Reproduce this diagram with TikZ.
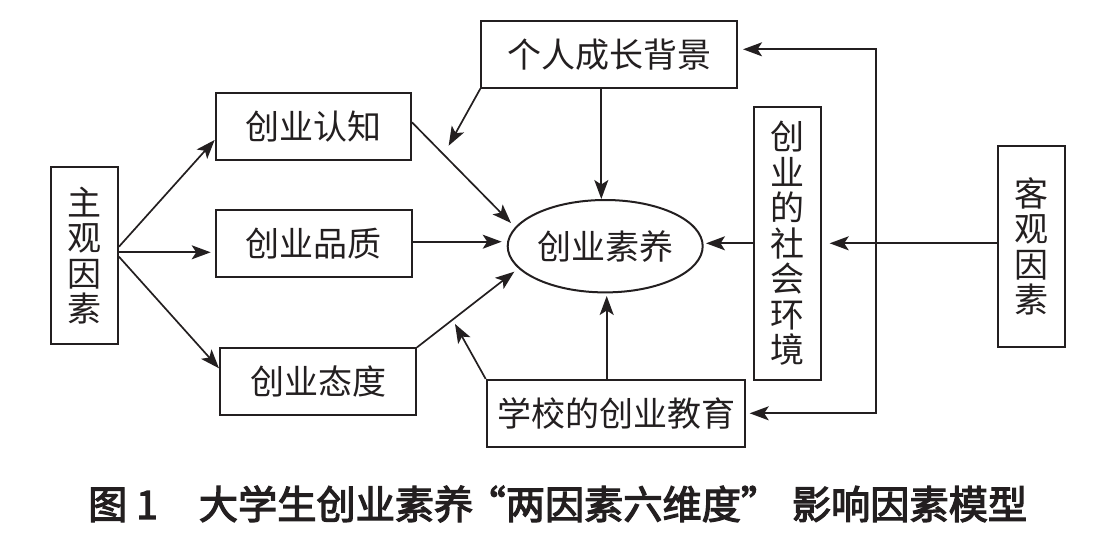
\documentclass[tikz,border=0pt]{standalone}
\usepackage{fontspec}
\usetikzlibrary{arrows.meta,calc,shapes.geometric}
\newfontfamily\song{Noto Sans CJK SC}
\newfontfamily\hei[FakeBold=3]{Noto Sans CJK SC}
\definecolor{ink}{RGB}{35,31,32}
\tikzset{
    box/.style={draw=ink, line width=2pt, inner sep=0pt, text=ink, align=center,
        font=\song\fontsize{34}{35.5}\selectfont},
    link/.style={draw=ink, line width=1.7pt, -{Stealth[length=19pt,width=14pt,inset=4.5pt]}},
    bothlink/.style={draw=ink, line width=1.7pt,
        {Stealth[length=19pt,width=14pt,inset=4.5pt]}-{Stealth[length=19pt,width=14pt,inset=4.5pt]}}
}
\begin{document}
\begin{tikzpicture}[x=1pt,y=-1pt]
        \useasboundingbox (0,0) rectangle (1098,547);

        \node[box, minimum width=67.3pt, minimum height=177.3pt](zg) at (84.3,255.7){主\\观\\因\\素};
        \node[box, minimum width=195.3pt, minimum height=66.7pt](rz) at (313.3,126.7){创业认知};
        \node[box, minimum width=196pt, minimum height=66.7pt](pz) at (313.7,243.3){创业品质};
        \node[box, minimum width=196pt, minimum height=66.7pt](td) at (318,381.7){创业态度};

        \node[box, ellipse, minimum width=195pt, minimum height=92.4pt](sy) at (605.2,246.2){\makebox[130pt]{创业素养}};
        \node[box, minimum width=255.7pt, minimum height=66.7pt](bj) at (609.2,54.3){个人成长背景};
        \node[box, minimum width=258.6pt, minimum height=66.7pt](jy) at (616,413.3){学校的创业教育};

        \node[box, minimum width=67pt, minimum height=273.3pt](hj) at (787.8,243.3){创\\业\\的\\社\\会\\环\\境};
        \node[box, minimum width=67.3pt, minimum height=201pt](kg) at (1031.3,246.2){客\\观\\因\\素};

        \coordinate (b1) at ($(bj.south)+(-7.9,0)$);
        \coordinate (j1) at ($(jy.north)+(-9.3,0)$);
        \coordinate (k1) at ($(kg.west)+(0,-2.9)$);
        \coordinate (ltop) at (876,49.3);
        \coordinate (lbot) at (876,413.3);

        \draw[link] ($(zg.east)+(0,-9)$) -- ($(rz.west)+(0,13.3)$);
        \draw[link] ($(zg.east)+(0,-3.4)$) -- ($(pz.west)+(-4,9)$);
        \draw[link] ($(zg.east)+(0,1)$) -- ($(td.west)+(0,-13.4)$);

        \draw[link] ($(rz.east)+(0,-4.4)$) -- ($(sy.center)+(-94.2,-23.2)$);
        \draw[link] ($(pz.east)+(0,-1.6)$) -- ($(sy.west)+(-5,-4.5)$);
        \draw[link] (td.north east) -- ($(sy.center)+(-90.9,25.5)$);

        \draw[link] (bj.south west) -- ($(rz.east)+(36.7,19)$);
        \draw[link] (b1) -- (b1 |- sy.north);
        \draw[link] (jy.north west) -- ($(jy.north west)+(-30.7,-55)$);
        \draw[link] (j1) -- ($(j1 |- sy.south)+(0,2.6)$);

        \draw[link] (hj.west) -- ($(hj.west -| sy.east)+(2.3,0)$);
        \draw[link] (k1) -- ($(hj.east)+(7.4,0)$);
        \draw[bothlink] ($(bj.east)+(5,-5)$) -- (ltop) -- (lbot) -- ($(jy.east)+(3.4,0)$);

        \node[text=ink, anchor=west, inner sep=0pt, font=\hei\fontsize{39.2}{40}\selectfont](cap) at (88,504)
            {图 1\hspace{41pt}大学生创业素养\makebox[32.4pt][r]{“}两因素六维度\makebox[51pt][l]{”}影响因素模型};
\end{tikzpicture}
\end{document}
